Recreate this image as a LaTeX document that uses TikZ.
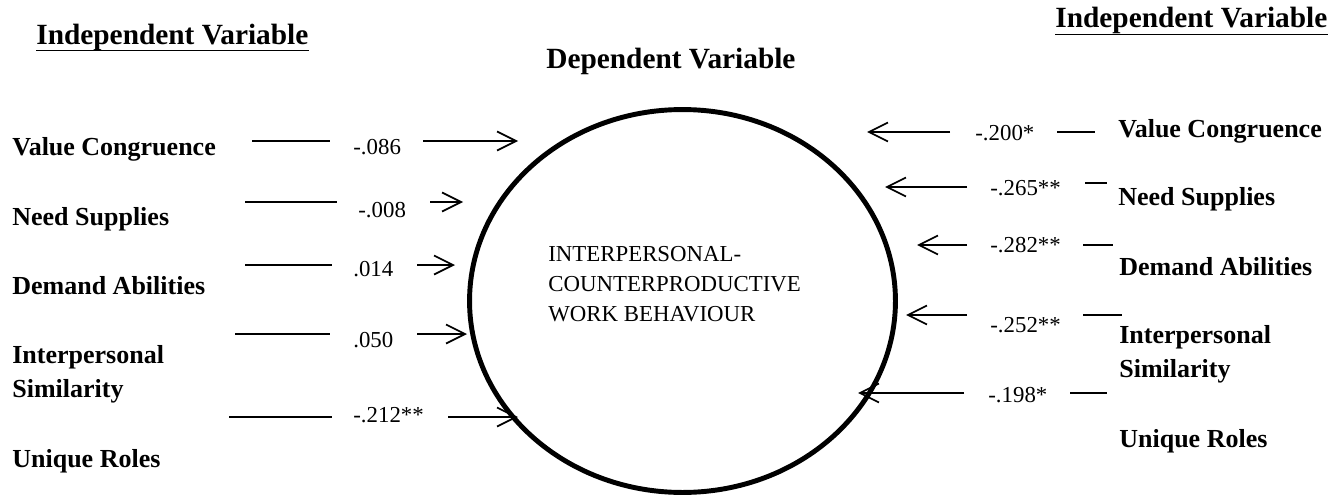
\documentclass[tikz,border=0pt]{standalone}
\usepackage{fontspec}
\setmainfont{Liberation Serif}
\usetikzlibrary{arrows.meta,shapes.geometric}

\begin{document}
\begin{tikzpicture}[
    x=0.02cm, y=-0.02cm,
    head/.style={font=\bfseries\fontsize{16.7pt}{20pt}\selectfont, inner sep=0pt, anchor=base west},
    varlab/.style={font=\bfseries\fontsize{14.8pt}{19.3pt}\selectfont, inner sep=0pt, anchor=base west, align=left},
    coef/.style={font=\fontsize{13pt}{17.1pt}\selectfont, inner sep=0pt, anchor=base west},
    link/.style={line width=1pt},
    flow/.style={->, line width=1pt, >={Straight Barb[length=3.8mm, width=3.8mm]}}
]
    \useasboundingbox (0,0) rectangle (1341,497);

    % Headings
    \node[head] (lhead) at (36,44) {Independent Variable};
    \node[head] (rhead) at (1055,28) {Independent Variable};
    \node[head] (dhead) at (546,68) {Dependent Variable};
    \draw[line width=1pt] (lhead.south west) -- (lhead.south east);
    \draw[line width=1pt] (rhead.south west) -- (rhead.south east);

    % Dependent variable
    \node[draw, ellipse, line width=2.8pt, minimum width=8.52cm, minimum height=7.66cm, inner sep=0pt] (cwb) at (682.5,301) {};
    \node[coef, anchor=west, align=left] (cwbtxt) at (548,284) {INTERPERSONAL-\\COUNTERPRODUCTIVE\\WORK BEHAVIOUR};

    % Left predictors
    \node[varlab] (lvc) at (12,155) {Value Congruence};
    \node[varlab] (lns) at (12,225) {Need Supplies};
    \node[varlab] (lda) at (12,294) {Demand Abilities};
    \node[varlab, anchor=west] (lis) at (12,374) {Interpersonal\\Similarity};
    \node[varlab] (lur) at (12,467) {Unique Roles};

    \node[coef] (lv1) at (353,154) {-.086};
    \node[coef] (lv2) at (358,217) {-.008};
    \node[coef] (lv3) at (353,276) {.014};
    \node[coef] (lv4) at (353,347) {.050};
    \node[coef] (lv5) at (353,422) {-.212**};

    \coordinate (l1a) at (252,141); \coordinate (l1b) at (330,141);
    \coordinate (l1c) at (423,141); \coordinate (l1d) at (518,141);
    \coordinate (l2a) at (245,202); \coordinate (l2b) at (337,202);
    \coordinate (l2c) at (430,202); \coordinate (l2d) at (463,202);
    \coordinate (l3a) at (245,265); \coordinate (l3b) at (332,265);
    \coordinate (l3c) at (417,265); \coordinate (l3d) at (455,265);
    \coordinate (l4a) at (235,334); \coordinate (l4b) at (330,334);
    \coordinate (l4c) at (417,334); \coordinate (l4d) at (467,334);
    \coordinate (l5a) at (229,417); \coordinate (l5b) at (332,417);
    \coordinate (l5c) at (448,417); \coordinate (l5d) at (518,417);

    \draw[link] (l1a) -- (l1b);  \draw[flow] (l1c) -- (l1d);
    \draw[link] (l2a) -- (l2b);  \draw[flow] (l2c) -- (l2d);
    \draw[link] (l3a) -- (l3b);  \draw[flow] (l3c) -- (l3d);
    \draw[link] (l4a) -- (l4b);  \draw[flow] (l4c) -- (l4d);
    \draw[link] (l5a) -- (l5b);  \draw[flow] (l5c) -- (l5d);

    % Right predictors
    \node[varlab] (rvc) at (1118,137) {Value Congruence};
    \node[varlab] (rns) at (1118,205) {Need Supplies};
    \node[varlab] (rda) at (1119,275) {Demand Abilities};
    \node[varlab, anchor=west] (ris) at (1119,354) {Interpersonal\\Similarity};
    \node[varlab] (rur) at (1119,447) {Unique Roles};

    \node[coef] (rv1) at (975,140) {-.200*};
    \node[coef] (rv2) at (990,195) {-.265**};
    \node[coef] (rv3) at (990,252) {-.282**};
    \node[coef] (rv4) at (990,332) {-.252**};
    \node[coef] (rv5) at (988,402) {-.198*};

    \coordinate (r1a) at (950,132); \coordinate (r1b) at (867,132);
    \coordinate (r1c) at (1057,132); \coordinate (r1d) at (1095,132);
    \coordinate (r2a) at (967,187); \coordinate (r2b) at (885,187);
    \coordinate (r2c) at (1085,183); \coordinate (r2d) at (1107,183);
    \coordinate (r3a) at (967,245); \coordinate (r3b) at (917,245);
    \coordinate (r3c) at (1083,245); \coordinate (r3d) at (1113,245);
    \coordinate (r4a) at (967,315); \coordinate (r4b) at (906,315);
    \coordinate (r4c) at (1083,315); \coordinate (r4d) at (1122,315);
    \coordinate (r5a) at (964,393); \coordinate (r5b) at (858,393);
    \coordinate (r5c) at (1070,393); \coordinate (r5d) at (1107,393);

    \draw[flow] (r1a) -- (r1b);  \draw[link] (r1c) -- (r1d);
    \draw[flow] (r2a) -- (r2b);  \draw[link] (r2c) -- (r2d);
    \draw[flow] (r3a) -- (r3b);  \draw[link] (r3c) -- (r3d);
    \draw[flow] (r4a) -- (r4b);  \draw[link] (r4c) -- (r4d);
    \draw[flow] (r5a) -- (r5b);  \draw[link] (r5c) -- (r5d);
\end{tikzpicture}
\end{document}
